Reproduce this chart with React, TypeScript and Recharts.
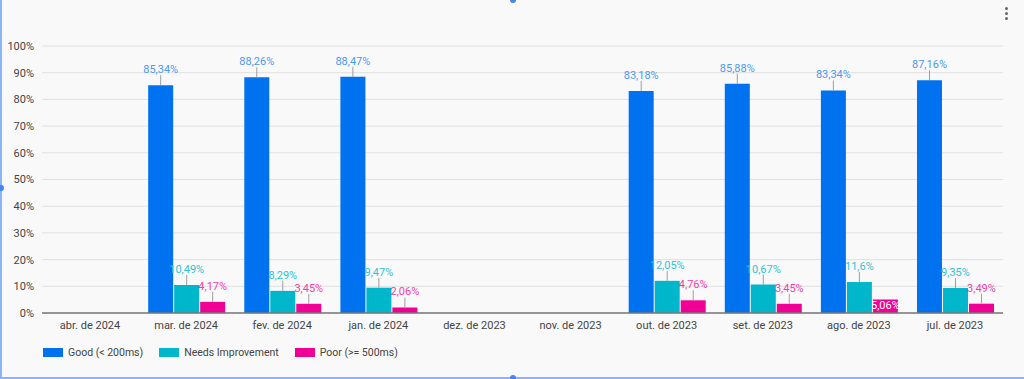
import React from 'react';
import { BarChart, Bar, CartesianGrid, XAxis, YAxis, LabelList } from 'recharts';

// months, newest first (as in the report)
const months = [
  'abr. de 2024', 'mar. de 2024', 'fev. de 2024', 'jan. de 2024', 'dez. de 2023',
  'nov. de 2023', 'out. de 2023', 'set. de 2023', 'ago. de 2023', 'jul. de 2023',
];
const good = [null, 85.34, 88.26, 88.47, null, null, 83.18, 85.88, 83.34, 87.16];
const needs = [null, 10.49, 8.29, 9.47, null, null, 12.05, 10.67, 11.6, 9.35];
const poor = [null, 4.17, 3.45, 2.06, null, null, 4.76, 3.45, 5.06, 3.49];
const yTicks = [0, 10, 20, 30, 40, 50, 60, 70, 80, 90, 100];

// labels that got pushed inside the bar in the original
const insidePoor = ['ago. de 2023'];

const data = months.map((m, i) => ({ month: m, good: good[i], needs: needs[i], poor: poor[i] }));

const fmt = (v: number) => String(v).replace('.', ',') + '%';

const makeLabel = (color: string, series: (number | null)[], inside: string[] = []) => (props: any) => {
  const { x, y, width, value } = props;
  if (value == null) return null;
  const cx = Number(x) + Number(width) / 2;
  const top = Number(y);
  const month = months[series.indexOf(value)];
  if (inside.includes(month)) {
    return (
      <text x={cx} y={top + 10} fill="#fff" textAnchor="middle" fontSize={11} fontFamily="Roboto">
        {fmt(value)}
      </text>
    );
  }
  return (
    <g>
      <line x1={cx} x2={cx} y1={top} y2={top - 10} stroke="#9e9e9e" strokeWidth={1} />
      <text x={cx} y={top - 12} fill={color} textAnchor="middle" fontSize={11} fontFamily="Roboto">
        {fmt(value)}
      </text>
    </g>
  );
};

const legend = [
  { name: 'Good (< 200ms)', color: '#0072F0' },
  { name: 'Needs Improvement', color: '#00B6CB' },
  { name: 'Poor (>= 500ms)', color: '#F10096' },
];

export default function App() {
  return (
    <div style={{ position: 'absolute', left: 0, top: 0, width: 1024, height: 379, background: '#f9f9f9', fontFamily: 'Roboto', overflow: 'hidden' }}>
      {/* editor selection frame */}
      <div style={{ position: 'absolute', left: 0, top: 0, width: 2, height: 379, background: '#8ab4f8' }} />
      <div style={{ position: 'absolute', left: 0, top: 377, width: 1024, height: 2, background: '#8ab4f8' }} />
      <div style={{ position: 'absolute', left: -2, top: 185, width: 6, height: 6, borderRadius: 3, background: '#4285f4' }} />
      <div style={{ position: 'absolute', left: 510, top: 375, width: 6, height: 6, borderRadius: 3, background: '#4285f4' }} />
      <div style={{ position: 'absolute', left: 510, top: -3, width: 6, height: 6, borderRadius: 3, background: '#4285f4' }} />
      {/* kebab menu */}
      <div style={{ position: 'absolute', left: 1005, top: 7, display: 'flex', flexDirection: 'column', gap: 2 }}>
        {[0, 1, 2].map((k) => (
          <div key={k} style={{ width: 3, height: 3, borderRadius: 1.5, background: '#666' }} />
        ))}
      </div>

      <BarChart
        width={1024}
        height={379}
        data={data}
        margin={{ top: 46, right: 21, left: 4, bottom: 46 }}
        barCategoryGap="10.5%"
        barGap={1}
        style={{ position: 'absolute', left: 0, top: 0 }}
      >
        <CartesianGrid vertical={false} stroke="#e0e0e0" strokeWidth={1} />
        <XAxis
          dataKey="month"
          axisLine={{ stroke: '#777', strokeWidth: 1.5 }}
          tickLine={false}
          tick={{ fontSize: 11, fill: '#444', fontFamily: 'Roboto' }}
          interval={0}
          height={20}
        />
        <YAxis
          width={38}
          domain={[0, 100]}
          ticks={yTicks}
          tickFormatter={(v) => `${v}%`}
          axisLine={false}
          tickLine={false}
          tick={{ fontSize: 11, fill: '#444', fontFamily: 'Roboto' }}
          interval={0}
        />
        <Bar dataKey="good" fill="#0072F0" isAnimationActive={false}>
          <LabelList dataKey="good" content={makeLabel('#4a9af5', good)} />
        </Bar>
        <Bar dataKey="needs" fill="#00B6CB" isAnimationActive={false}>
          <LabelList dataKey="needs" content={makeLabel('#2ec4d6', needs)} />
        </Bar>
        <Bar dataKey="poor" fill="#F10096" isAnimationActive={false}>
          <LabelList dataKey="poor" content={makeLabel('#f23fa8', poor, insidePoor)} />
        </Bar>
      </BarChart>

      <div style={{ position: 'absolute', left: 43, top: 346, display: 'flex', alignItems: 'center', fontSize: 10.5, color: '#444' }}>
        {legend.map((l) => (
          <div key={l.name} style={{ display: 'flex', alignItems: 'center', marginRight: 16 }}>
            <div style={{ width: 20, height: 9, background: l.color, marginRight: 5 }} />
            <span>{l.name}</span>
          </div>
        ))}
      </div>
    </div>
  );
}
